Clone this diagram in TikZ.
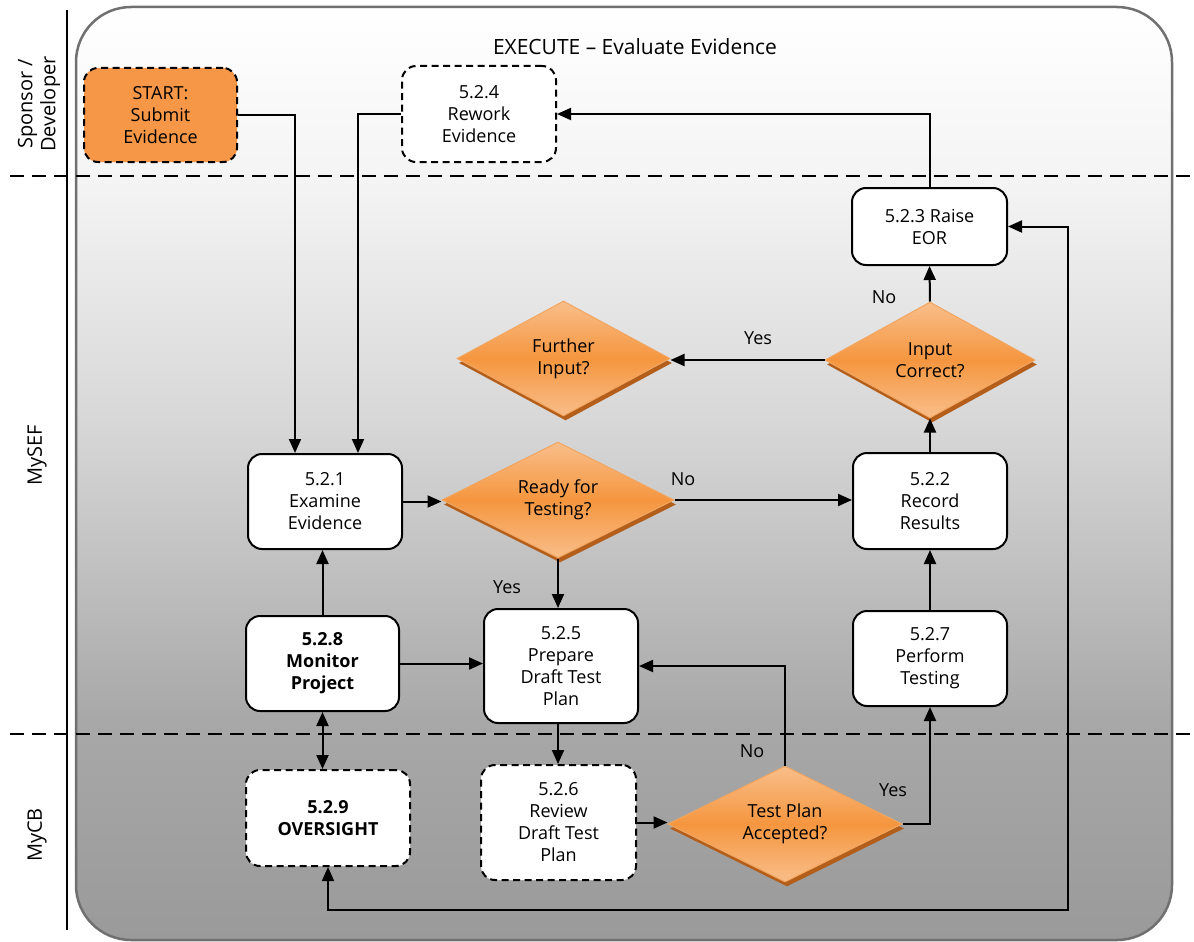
\documentclass[tikz,border=0pt]{standalone}
\usepackage{fontspec}
\setmainfont{Open Sans}
\usetikzlibrary{shapes.geometric,arrows.meta,calc,shadows}
\definecolor{orfill}{HTML}{F5963F}
\definecolor{orlight}{HTML}{F9BE8A}
\definecolor{orline}{HTML}{F2A55F}
\definecolor{orshadow}{HTML}{B35E1B}
\definecolor{startfill}{HTML}{F59747}
\definecolor{framecol}{HTML}{707070}
\definecolor{bgA}{HTML}{9A9A9A}
\definecolor{bgB}{HTML}{A8A8A8}
\definecolor{bgC}{HTML}{D6D6D6}
\definecolor{bgD}{HTML}{E6E6E6}
\definecolor{bgE}{HTML}{F4F4F4}
\pgfdeclareverticalshading{lanebg}{100bp}{color(0bp)=(bgA); color(25bp)=(bgA); color(36.8bp)=(bgB); color(52.3bp)=(bgC); color(59.3bp)=(bgD); color(65.7bp)=(bgE); color(75bp)=(white); color(100bp)=(white)}
\newcommand\nodefont{\fontsize{18}{22}\selectfont}
\begin{document}
\begin{tikzpicture}[x=1pt,y=-1pt,
  box/.style={draw, line width=2pt, rounded corners=14pt, fill=white, align=center, inner sep=0pt, font=\nodefont},
  dbox/.style={box, dash pattern=on 7pt off 4.5pt},
  dia/.style={diamond, aspect=2, draw=orline, line width=1pt, top color=orlight, bottom color=orlight, middle color=orfill, align=center, inner sep=0pt, font=\nodefont,
     drop shadow={shadow xshift=2pt, shadow yshift=-4.5pt, fill=orshadow, opacity=1}},
  arr/.style={draw, line width=2pt, -{Triangle[length=14pt,width=12pt]}},
  darr/.style={draw, line width=2pt, {Triangle[length=14pt,width=12pt]}-{Triangle[length=14pt,width=12pt]}},
  lane/.style={draw, line width=1.6pt, dash pattern=on 14pt off 8pt},
  lbl/.style={font=\nodefont, inner sep=0pt},
  lanelbl/.style={font=\fontsize{20}{23}\selectfont, inner sep=0pt, rotate=90, align=center}
]
\useasboundingbox (0,0) rectangle (1194,942);
% background frame
\shade[shading=lanebg, rounded corners=55pt] (76,7) rectangle (1172,940);
\draw[framecol, line width=2.5pt, rounded corners=55pt] (76,7) rectangle (1172,940);
% lane separators
\draw[line width=2pt] (67,10) -- (67,930);
\draw[lane] (10,176) -- (1194,176);
\draw[lane] (10,734) -- (1194,734);
% lane labels
\node[lanelbl] (lsd) at (39,104) {Sponsor /\\Developer};
\node[lanelbl] (lsef) at (37,455) {MySEF};
\node[lanelbl] (lcb) at (37,835) {MyCB};
% title
\node[font=\fontsize{21}{24}\selectfont, inner sep=0pt] (title) at (635,47) {EXECUTE – Evaluate Evidence};
% nodes
\node[dbox, fill=startfill, minimum width=153pt, minimum height=94pt] (start) at (160.5,115) {START:\\Submit\\Evidence};
\node[dbox, minimum width=154pt, minimum height=96pt] (s524) at (479,114) {5.2.4\\Rework\\Evidence};
\node[box, minimum width=155pt, minimum height=77pt] (s523) at (929.5,226.5) {5.2.3 Raise\\EOR};
\node[dia, minimum width=210pt, minimum height=116pt] (dIC) at (930,360) {Input\\Correct?};
\node[dia, minimum width=213pt, minimum height=115pt] (dFI) at (563.5,358.5) {Further\\Input?};
\node[box, minimum width=154pt, minimum height=95pt] (s521) at (325,501.5) {5.2.1\\Examine\\Evidence};
\node[dia, minimum width=232pt, minimum height=116pt] (dRT) at (558,500) {Ready for\\Testing?};
\node[box, minimum width=154pt, minimum height=96pt] (s522) at (930,501) {5.2.2\\Record\\Results};
\node[box, minimum width=153pt, minimum height=95pt, font=\nodefont\bfseries] (s528) at (322.5,663.5) {5.2.8\\Monitor\\Project};
\node[box, minimum width=154pt, minimum height=114pt] (s525) at (561,666) {5.2.5\\Prepare\\Draft Test\\Plan};
\node[box, minimum width=154pt, minimum height=95pt] (s527) at (930,658.5) {5.2.7\\Perform\\Testing};
\node[dbox, minimum width=164pt, minimum height=96pt, font=\nodefont\bfseries] (s529) at (328,818) {5.2.9\\OVERSIGHT};
\node[dbox, minimum width=155pt, minimum height=115pt] (s526) at (558.5,822.5) {5.2.6\\Review\\Draft Test\\Plan};
\node[dia, minimum width=234pt, minimum height=116pt] (dTP) at (785,824) {Test Plan\\Accepted?};
\coordinate (loopc) at (1068,910);
% connectors
\draw[arr] (start.east) -| ([xshift=-30pt]s521.north);
\draw[arr] (s524.west) -| ([xshift=33pt]s521.north);
\draw[arr] (s523.north) |- (s524.east);
\draw[arr] (dIC.north) -- (s523.south);
\draw[arr] (dIC.west) -- (dIC.west -| dFI.east);
\draw[arr] (s522.north) -- (dIC.south);
\draw[arr] (s521.east) -- (s521.east -| dRT.west);
\draw[arr] (dRT.east) -- (dRT.east -| s522.west);
\draw[arr] (dRT.south) -- (dRT.south |- s525.north);
\draw[arr] (s528.north) -- (s528.north |- s521.south);
\draw[arr] (s528.east) -- (s528.east -| s525.west);
\draw[darr] (s528.south) -- (s528.south |- s529.north);
\draw[arr] ([xshift=-3pt]s525.south) -- ([xshift=-3pt]s525.south |- s526.north);
\draw[arr] (s526.east) -- (s526.east -| dTP.west);
\draw[arr] (dTP.north) |- (s525.east);
\draw[arr] (dTP.east) -| (s527.south);
\draw[arr] (s527.north) -- (s522.south);
\draw[darr] (s529.south) |- (loopc) |- (s523.east);
% connector labels
\node[lbl] (lno1) at (884,297) {No};
\node[lbl] (lyes1) at (758,338) {Yes};
\node[lbl] (lno2) at (683,479) {No};
\node[lbl] (lyes2) at (507,587) {Yes};
\node[lbl] (lno3) at (752,751) {No};
\node[lbl] (lyes3) at (893,790) {Yes};
\end{tikzpicture}
\end{document}
